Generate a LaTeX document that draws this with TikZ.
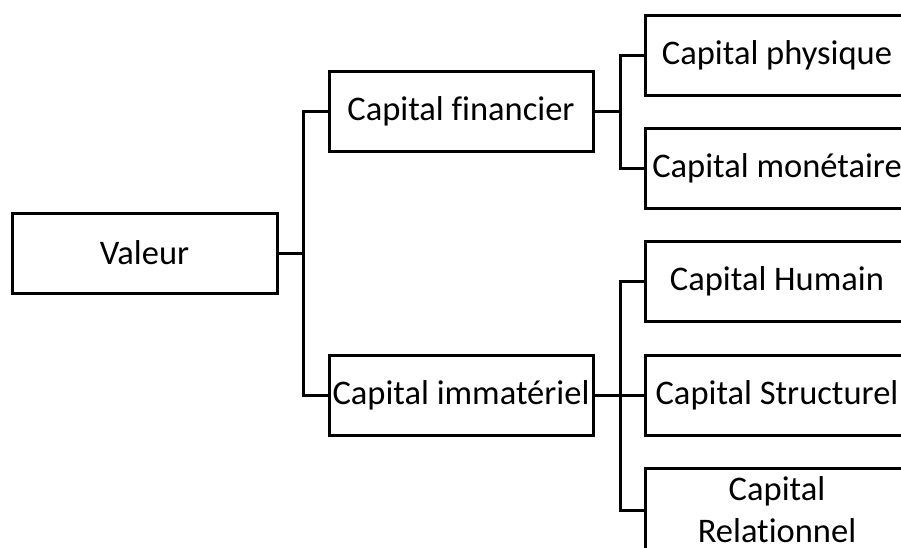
\documentclass[tikz,border=0pt]{standalone}
\usepackage{fontspec}
\setmainfont{Carlito}[Ligatures=NoCommon]
\begin{document}
\begin{tikzpicture}[x=1pt,y=-1pt,
  box/.style={draw,line width=3pt,rectangle,minimum width=264pt,minimum height=80pt,inner sep=0pt,align=center,font=\fontsize{34.5}{42}\selectfont},
  conn/.style={line width=3pt}]
\useasboundingbox (0,0) rectangle (901,547);
\clip (0,0) rectangle (901,547);
\fill[white] (0,0) rectangle (901,547);
\node[box,minimum width=265pt] (val) at (144.5,253) {Valeur};
\node[box] (fin) at (461,111.5) {Capital financier};
\node[box] (imm) at (461,395) {Capital immatériel};
\node[box] (phy) at (777,55) {Capital physique};
\node[box] (mon) at (777,168) {Capital monétaire};
\node[box] (hum) at (777,281.5) {Capital Humain};
\node[box] (str) at (777,395) {Capital Structurel};
\node[box,minimum height=84pt] (rel) at (777,510) {Capital\\Relationnel};
\coordinate (j1) at (303,253);
\coordinate (j2) at (620,111.5);
\coordinate (j3) at (620,395);
\draw[conn] (val.east) -- (j1);
\draw[conn] (fin.west) -- (fin.west -| j1) -- (imm.west -| j1) -- (imm.west);
\draw[conn] (fin.east) -- (j2);
\draw[conn] (phy.west) -- (phy.west -| j2) -- (mon.west -| j2) -- (mon.west);
\draw[conn] (imm.east) -- (str.west);
\draw[conn] (hum.west) -- (hum.west -| j3) -- (rel.west -| j3) -- (rel.west);
\end{tikzpicture}
\end{document}
